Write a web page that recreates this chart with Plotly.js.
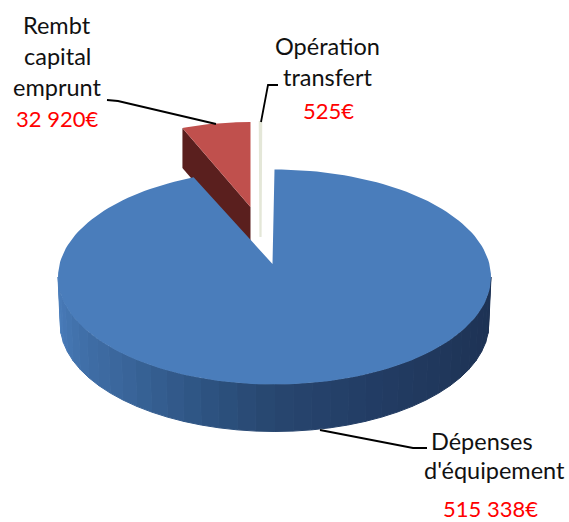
<!DOCTYPE html>
<html>
<head>
<meta charset="utf-8">
<script src="https://cdn.plot.ly/plotly-3.0.1.min.js"></script>
<style>
html,body{margin:0;padding:0;background:#fff;}
#chart{width:569px;height:522px;}
.cartesianlayer{filter:blur(0.6px);}
</style>
</head>
<body>
<div id="chart"></div>
<script>
// Data
const categories = ["Dépenses d'équipement", "Rembt capital emprunt", "Opération transfert"];
const amounts = [515338, 32920, 525];
const amountLabels = ["515 338€", "32 920€", "525€"];
const sliceColors = ["#4A7DBB", "#C0504D", "#E4E7D8"];
const redSideColor = "#5A1F1E";
const wallAngles = [90, 120, 150, 180, 200, 225, 240, 255, 270];
const wallColors = ["#1C3152", "#1F3558", "#223B63", "#27466F", "#2E5482", "#3A669B", "#3F6DA6", "#4576B2", "#4B7EBB"];

const total = amounts.reduce((a, b) => a + b, 0);
const sweeps = amounts.map(v => v / total * 360);
const rad = d => d * Math.PI / 180;

// Projection of each exploded slice on the page: apex and elliptical radii
const mainGeo = {ax: 272.5, ay: 264, cx: 274.5, cy: 277, rx: 216.5, ry: 107.5};
const redGeo = {ax: 250.5, ay: 207, cx: 250.5, cy: 207, rx: 185, ry: 85};
const thinGeo = {ax: 260.5, ay: 237, cx: 260.5, cy: 237, rx: 216, ry: 115};
const wallDepth = 47;
const redDepth = 40;

function rim(g, from, to, n) {
  const xs = [], ys = [];
  for (let i = 0; i <= n; i++) {
    const t = rad(from + (to - from) * i / n);
    xs.push(g.cx + g.rx * Math.sin(t));
    ys.push(g.cy - g.ry * Math.cos(t));
  }
  return {xs, ys};
}
function wedge(g, from, to, n) {
  const r = rim(g, from, to, n);
  return {x: [g.ax, ...r.xs, g.ax], y: [g.ay, ...r.ys, g.ay]};
}
function poly(p, color, lw) {
  return {type: 'scatter', mode: 'lines', x: p.x, y: p.y, fill: 'toself', fillcolor: color,
    line: {color: color, width: lw || 0}, hoverinfo: 'skip', showlegend: false};
}
function hex(c) { return [1, 3, 5].map(i => parseInt(c.substr(i, 2), 16)); }
function wallColor(a) {
  let i = 0;
  while (i < wallAngles.length - 2 && a > wallAngles[i + 1]) i++;
  const f = (a - wallAngles[i]) / (wallAngles[i + 1] - wallAngles[i]);
  const c0 = hex(wallColors[i]), c1 = hex(wallColors[i + 1]);
  return 'rgb(' + c0.map((v, k) => Math.round(v + (c1[k] - v) * f)).join(',') + ')';
}

const traces = [];
// Outer wall of the main slice
const step = 5;
for (let a = 90; a < 270; a += step) {
  const top = rim(mainGeo, a, a + step, 4);
  const low = {xs: top.xs.map(x => mainGeo.cx + (x - mainGeo.cx) * 0.99), ys: top.ys.map(y => y + wallDepth)};
  traces.push(poly({x: [...top.xs, ...low.xs.slice().reverse(), top.xs[0]],
                    y: [...top.ys, ...low.ys.slice().reverse(), top.ys[0]]}, wallColor(a + step / 2), 1));
}
// Thin slice, between the other two
const thinStart = -sweeps[2] / 2;
traces.push(poly(wedge(thinGeo, thinStart, thinStart + sweeps[2], 2), sliceColors[2], 2.2));
// Red slice: its cut side, then its top
const redPt = rim(redGeo, -sweeps[1], -sweeps[1], 1);
const rx0 = redPt.xs[0], ry0 = redPt.ys[0];
traces.push(poly({x: [rx0, redGeo.ax, redGeo.ax, rx0, rx0],
                  y: [ry0, redGeo.ay, redGeo.ay + redDepth, ry0 + redDepth, ry0]}, redSideColor, 0));
traces.push(poly(wedge(redGeo, -sweeps[1], 0, 24), sliceColors[1], 0));
// Main slice top
traces.push(poly(wedge(mainGeo, 0, sweeps[0], 180), sliceColors[0], 0));

// Leader lines
const leaders = [
  {x: [107, 118, 216], y: [100, 101, 124]},
  {x: [278, 268, 261], y: [85, 85, 122]},
  {x: [320, 413, 427], y: [430, 448, 448]}
];
leaders.forEach(l => traces.push({type: 'scatter', mode: 'lines', x: l.x, y: l.y,
  line: {color: '#000', width: 1.8}, hoverinfo: 'skip', showlegend: false}));

// Text
const FONT = 'Lato, "Open Sans", sans-serif';
const textItems = [
  ["Rembt", 57, 25, "#111", 23.5], ["capital", 57, 56, "#111", 23.5], ["emprunt", 57, 87, "#111", 23.5], [amountLabels[1], 57, 118, "#FF0000", 22],
  ["Opération", 327.5, 46, "#111", 23.5], ["transfert", 327.5, 77, "#111", 23.5], [amountLabels[2], 328, 110, "#FF0000", 22],
  ["Dépenses", 481.5, 441, "#111", 23.5], ["d'équipement", 494.5, 470, "#111", 23.5], [amountLabels[0], 490, 508, "#FF0000", 22]
];
const annotations = textItems.map(t => ({text: t[0], x: t[1], y: t[2], xref: 'x', yref: 'y',
  xanchor: 'center', yanchor: 'middle', showarrow: false, font: {family: FONT, size: t[4], color: t[3]}}));

const layout = {
  width: 569, height: 522,
  margin: {l: 0, r: 0, t: 0, b: 0},
  paper_bgcolor: '#fff', plot_bgcolor: '#fff',
  showlegend: false,
  xaxis: {range: [0, 569], visible: false, fixedrange: true},
  yaxis: {range: [522, 0], visible: false, fixedrange: true},
  annotations
};
Plotly.newPlot('chart', traces, layout, {displayModeBar: false, staticPlot: true});
</script>
</body>
</html>
